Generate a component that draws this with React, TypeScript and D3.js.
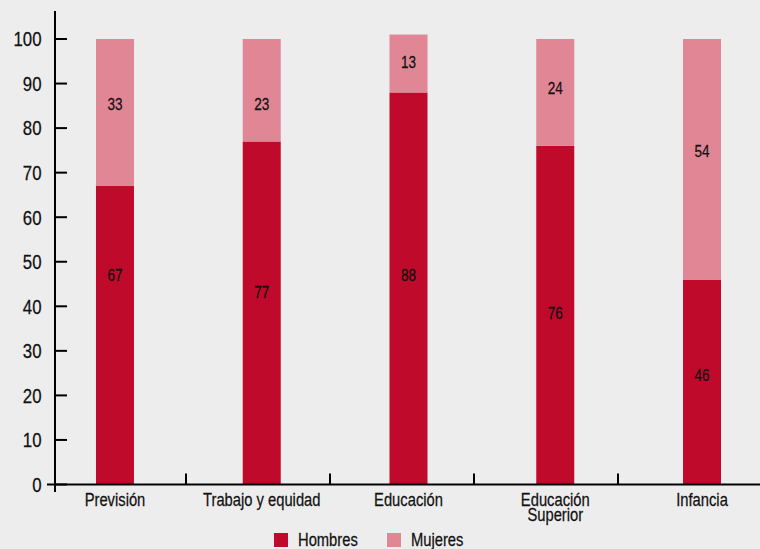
import React from "react";
import * as d3 from "d3";

const categories = ["Previsión", "Trabajo y equidad", "Educación", "Educación\nSuperior", "Infancia"];
const hombres = [67, 77, 88, 76, 46];
const mujeres = [33, 23, 13, 24, 54];
// label anchor positions (data units) as placed in the original
const hombresLabelAt = [47, 43.2, 47, 38.5, 24.6];
const mujeresLabelAt = [85.4, 85.4, 94.8, 89, 74.9];
const yTicks = [0, 10, 20, 30, 40, 50, 60, 70, 80, 90, 100];
const seriesNames = ["Hombres", "Mujeres"];

const W = 760;
const H = 549;
const COL_H = "#c00a2b";
const COL_M = "#e08695";
const BG = "#ededed";
const FONT = "'Liberation Sans', Arial, sans-serif";
const NARROW = 0.82;

function NText({ x, y, size, anchor = "middle", dy = "0", children }: any) {
  return (
    <text
      transform={`translate(${x},${y}) scale(${NARROW},1)`}
      fontSize={size}
      textAnchor={anchor}
      dy={dy}
      fill="#111"
      stroke="#111"
      strokeWidth={0.25}
      fontFamily={FONT}
    >
      {children}
    </text>
  );
}

export default function App() {
  const y = d3.scaleLinear().domain([0, 100]).range([484.5, 39]);
  const x = d3.scaleBand<number>().domain(d3.range(categories.length)).range([41.6, 775.4]).paddingInner(0.74).paddingOuter(0.37);
  const bounds = d3.scaleBand<number>().domain(d3.range(categories.length)).range([42, 762]);
  const bw = 38;
  const cx = (i: number) => (x(i) as number) + x.bandwidth() / 2;

  return (
    <div style={{ position: "fixed", left: 0, top: 0 }}>
      <svg width={W} height={H} style={{ display: "block", background: BG }}>
        <rect x={0} y={0} width={W} height={H} fill={BG} />
        {categories.map((c, i) => {
          const h = hombres[i];
          const m = mujeres[i];
          return (
            <g key={i}>
              <rect x={cx(i) - bw / 2} y={y(h)} width={bw} height={y(0) - y(h)} fill={COL_H} />
              <rect x={cx(i) - bw / 2} y={y(h + m)} width={bw} height={y(h) - y(h + m)} fill={COL_M} />
              <NText x={cx(i)} y={y(hombresLabelAt[i])} size={16.5} dy="0.36em">{h}</NText>
              <NText x={cx(i)} y={y(mujeresLabelAt[i])} size={16.5} dy="0.36em">{m}</NText>
            </g>
          );
        })}
        {/* y axis */}
        <line x1={55} x2={55} y1={11} y2={492} stroke="#000" strokeWidth={2} />
        {yTicks.map((t) => (
          <g key={t}>
            <line x1={55} x2={67} y1={y(t)} y2={y(t)} stroke="#000" strokeWidth={2} />
            <NText x={41.5} y={y(t)} size={20.5} anchor="end" dy="0.36em">{t}</NText>
          </g>
        ))}
        {/* x axis */}
        <line x1={47} x2={W} y1={y(0)} y2={y(0)} stroke="#000" strokeWidth={2} />
        {d3.range(1, categories.length).map((i) => (
          <line key={i} x1={bounds(i) as number} x2={bounds(i) as number} y1={y(0)} y2={y(0) - 11} stroke="#000" strokeWidth={2} />
        ))}
        {categories.map((c, i) => (
          <NText key={i} x={cx(i)} y={505.5} size={18}>
            {c.split("\n").map((line, k) => (
              <tspan key={k} x={0} dy={k === 0 ? 0 : 15}>{line}</tspan>
            ))}
          </NText>
        ))}
        {/* legend */}
        {seriesNames.map((s, k) => (
          <g key={s}>
            <rect x={274 + k * 113} y={533} width={14} height={14} fill={k === 0 ? COL_H : COL_M} />
            <NText x={298 + k * 113} y={545.5} size={18} anchor="start">{s}</NText>
          </g>
        ))}
      </svg>
    </div>
  );
}
